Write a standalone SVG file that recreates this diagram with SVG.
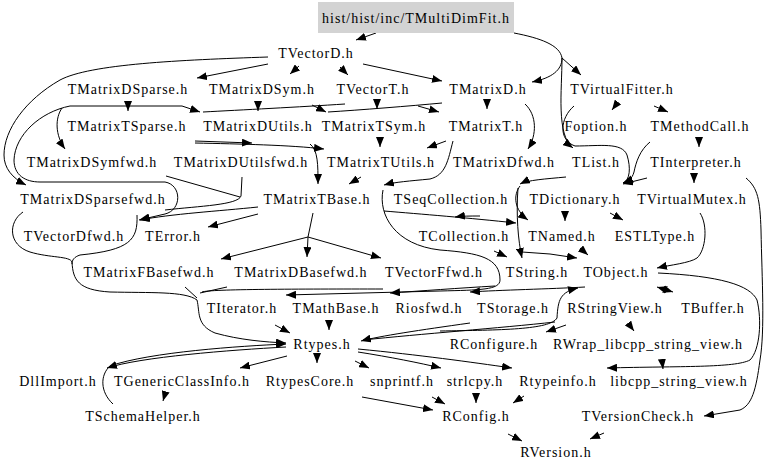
<svg xmlns="http://www.w3.org/2000/svg" width="768" height="474" viewBox="0 0 768 474">
<style>
text{font-family:"Liberation Serif","Times New Roman",serif;font-size:14px;letter-spacing:1px;text-anchor:middle;fill:#000}
.e path{fill:none;stroke:#000;stroke-width:1}
.e path.a{marker-end:url(#ah)}
.e path.b{marker-start:url(#ahs);marker-end:url(#ah)}
</style>
<defs>
<marker id="ah" viewBox="0 0 10 8" refX="10" refY="4" markerWidth="10" markerHeight="8" orient="auto" markerUnits="userSpaceOnUse"><path d="M0,0 L10,4 L0,8 z" fill="#000"/></marker>
<marker id="ahs" viewBox="0 0 10 8" refX="10" refY="4" markerWidth="10" markerHeight="8" orient="auto-start-reverse" markerUnits="userSpaceOnUse"><path d="M0,0 L10,4 L0,8 z" fill="#000"/></marker>
</defs>
<rect width="768" height="474" fill="#fff"/>
<g id="edges" class="e">
<path class="a" d="M376,33 L356,40"/>
<path class="a" d="M514,33 C540,38 560,45 562,58 C562,70 552,78 532,82"/>
<path class="a" d="M562,58 L581,75"/>
<path class="a" d="M562,58 C562,90 556,135 573,148"/>
<path class="a" d="M268,64 L197,78"/>
<path class="a" d="M299,66 L290,74"/>
<path class="a" d="M340,67 L348,75"/>
<path class="a" d="M363,64 L442,81"/>
<path class="a" d="M268,57 C180,60 90,64 60,80 C25,100 4,130 4,155 C4,168 12,178 26,185"/>
<path class="a" d="M70,106 C40,112 15,135 14,160 C14,175 25,182 40,182 L165,182 C182,185 182,210 165,214 L139,220"/>
<path class="a" d="M128,103 L128,111"/>
<path class="a" d="M62,108 C55,118 55,135 65,149"/>
<path class="a" d="M70,106 L182,106 L200,112"/>
<path d="M345,104 C300,107 240,110 203,112"/>
<path class="a" d="M258,102 L258,111"/>
<path class="a" d="M312,105 L326,112"/>
<path d="M442,103 C410,106 360,110 328,112"/>
<path class="a" d="M418,106 L439,112"/>
<path class="a" d="M377,100 L377,109"/>
<path class="a" d="M487,100 L487,109"/>
<path class="a" d="M525,104 C537,115 537,135 528,149"/>
<path class="a" d="M618,102 L612,110"/>
<path class="a" d="M654,106 L668,112"/>
<path class="a" d="M574,106 C560,118 558,140 575,146 C600,146 622,142 627,155 C631,168 630,180 623,183"/>
<path class="a" d="M699,138 L699,147"/>
<path class="a" d="M650,142 C640,150 636,162 634,172 C632,179 628,182 623,183"/>
<path class="a" d="M647,178 L623,184"/>
<path class="a" d="M694,174 L694,183"/>
<path class="a" d="M746,178 C758,188 760,200 761,230 C762,280 765,330 760,360 C756,390 752,405 740,410 L704,416"/>
<path class="a" d="M195,141 L252,143"/>
<path class="a" d="M195,143 C240,144 290,145 324,149"/>
<path class="a" d="M310,144 C318,150 318,165 318,184"/>
<path class="a" d="M380,138 L380,147"/>
<path class="a" d="M446,141 L427,148"/>
<path class="a" d="M453,141 C448,160 446,175 430,179 C410,181 395,182 384,185"/>
<path class="a" d="M361,177 L349,184"/>
<path d="M242,177 L241,196 C238,205 200,206 165,210"/>
<path d="M166,176 L240,197"/>
<path class="a" d="M258,207 C220,211 170,214 140,220"/>
<path class="a" d="M258,214 L208,227"/>
<path class="a" d="M313,213 L308,237 L221,259"/>
<path class="a" d="M308,237 L307,257"/>
<path class="a" d="M308,237 L381,258"/>
<path class="a" d="M384,211 C420,214 470,218 516,223"/>
<path class="a" d="M480,216 C470,216 462,216 455,217"/>
<path class="a" d="M383,190 C378,215 395,245 440,250 C480,253 500,258 500,280 C500,290 480,290 440,291 L286,295"/>
<path d="M383,289 C300,289 210,289 202,292"/>
<path class="a" d="M495,286 C460,288 420,291 390,293"/>
<path class="a" d="M566,177 C545,179 528,180 520,184"/>
<path class="a" d="M520,186 C513,195 514,210 528,220"/>
<path class="a" d="M518,188 C516,215 518,240 522,258"/>
<path class="a" d="M522,252 L550,254 L577,258"/>
<path class="a" d="M580,248 L588,255"/>
<path class="a" d="M494,251 L507,257"/>
<path class="a" d="M565,212 L565,221"/>
<path class="a" d="M610,213 L623,220"/>
<path class="a" d="M700,213 C708,225 706,250 697,258 C690,263 670,265 657,268"/>
<path class="b" d="M657,287 L673,292"/>
<path class="a" d="M658,273 C720,276 750,285 757,300 C762,320 760,350 750,360 C735,368 680,366 607,368"/>
<path class="a" d="M662,360 L663,369"/>
<path class="a" d="M440,331 C500,330 550,330 557,318 C558,300 560,292 578,288"/>
<path class="a" d="M470,323 C420,330 380,336 361,341"/>
<path d="M555,322 C500,328 420,334 363,340"/>
<path class="a" d="M585,287 C550,289 500,290 470,292"/>
<path class="a" d="M23,212 C8,222 8,245 30,252 C50,258 70,256 72,262 C73,280 78,290 110,292 C150,293 185,291 197,300 C200,312 196,325 215,333 C240,340 265,342 286,343"/>
<path d="M137,215 C138,240 130,250 80,255 C74,257 72,260 72,264"/>
<path d="M227,287 L200,293"/>
<path d="M185,287 L197,298"/>
<path class="a" d="M275,325 L290,333"/>
<path class="a" d="M329,321 L329,330"/>
<path class="a" d="M566,325 L546,332"/>
<path class="a" d="M628,323 L634,331"/>
<path class="a" d="M113,404 C100,392 100,375 110,366 C150,352 240,346 286,344"/>
<path class="a" d="M286,347 C230,350 140,357 107,368"/>
<path class="a" d="M287,356 L240,368"/>
<path class="a" d="M317,355 L317,363"/>
<path class="a" d="M355,361 L369,368"/>
<path class="a" d="M358,352 C390,357 420,363 441,368"/>
<path class="a" d="M358,349 C420,355 470,362 512,368"/>
<path class="a" d="M165,394 L163,401"/>
<path class="a" d="M362,397 L433,410"/>
<path class="a" d="M432,397 L445,404"/>
<path class="a" d="M476,394 L476,403"/>
<path class="a" d="M524,396 L513,403"/>
<path class="a" d="M508,434 L522,441"/>
<path class="a" d="M604,433 L590,439"/>
</g>
<g id="n_root"><rect x="318" y="2" width="196" height="31" fill="#d3d3d3"/><text x="416" y="23">hist/hist/inc/TMultiDimFit.h</text></g>
<g id="n_TVectorD"><text x="316" y="58">TVectorD.h</text></g>
<g id="n_TMatrixDSparse"><text x="128" y="94">TMatrixDSparse.h</text></g>
<g id="n_TMatrixDSym"><text x="262" y="94">TMatrixDSym.h</text></g>
<g id="n_TVectorT"><text x="373" y="94">TVectorT.h</text></g>
<g id="n_TMatrixD"><text x="488" y="94">TMatrixD.h</text></g>
<g id="n_TVirtualFitter"><text x="622" y="94">TVirtualFitter.h</text></g>
<g id="n_TMatrixTSparse"><text x="127" y="131">TMatrixTSparse.h</text></g>
<g id="n_TMatrixDUtils"><text x="258" y="131">TMatrixDUtils.h</text></g>
<g id="n_TMatrixTSym"><text x="374" y="131">TMatrixTSym.h</text></g>
<g id="n_TMatrixT"><text x="486" y="131">TMatrixT.h</text></g>
<g id="n_Foption"><text x="596" y="131">Foption.h</text></g>
<g id="n_TMethodCall"><text x="700" y="131">TMethodCall.h</text></g>
<g id="n_TMatrixDSymfwd"><text x="92" y="167">TMatrixDSymfwd.h</text></g>
<g id="n_TMatrixDUtilsfwd"><text x="241" y="167">TMatrixDUtilsfwd.h</text></g>
<g id="n_TMatrixTUtils"><text x="381" y="167">TMatrixTUtils.h</text></g>
<g id="n_TMatrixDfwd"><text x="504" y="167">TMatrixDfwd.h</text></g>
<g id="n_TList"><text x="596" y="167">TList.h</text></g>
<g id="n_TInterpreter"><text x="696" y="167">TInterpreter.h</text></g>
<g id="n_TMatrixDSparsefwd"><text x="93" y="204">TMatrixDSparsefwd.h</text></g>
<g id="n_TMatrixTBase"><text x="317" y="204">TMatrixTBase.h</text></g>
<g id="n_TSeqCollection"><text x="451" y="204">TSeqCollection.h</text></g>
<g id="n_TDictionary"><text x="575" y="204">TDictionary.h</text></g>
<g id="n_TVirtualMutex"><text x="692" y="204">TVirtualMutex.h</text></g>
<g id="n_TVectorDfwd"><text x="74" y="241">TVectorDfwd.h</text></g>
<g id="n_TError"><text x="173" y="241">TError.h</text></g>
<g id="n_TCollection"><text x="464" y="241">TCollection.h</text></g>
<g id="n_TNamed"><text x="562" y="241">TNamed.h</text></g>
<g id="n_ESTLType"><text x="655" y="241">ESTLType.h</text></g>
<g id="n_TMatrixFBasefwd"><text x="149" y="277">TMatrixFBasefwd.h</text></g>
<g id="n_TMatrixDBasefwd"><text x="301" y="277">TMatrixDBasefwd.h</text></g>
<g id="n_TVectorFfwd"><text x="434" y="277">TVectorFfwd.h</text></g>
<g id="n_TString"><text x="537" y="277">TString.h</text></g>
<g id="n_TObject"><text x="616" y="277">TObject.h</text></g>
<g id="n_TIterator"><text x="242" y="313">TIterator.h</text></g>
<g id="n_TMathBase"><text x="336" y="313">TMathBase.h</text></g>
<g id="n_Riosfwd"><text x="429" y="313">Riosfwd.h</text></g>
<g id="n_TStorage"><text x="513" y="313">TStorage.h</text></g>
<g id="n_RStringView"><text x="615" y="313">RStringView.h</text></g>
<g id="n_TBuffer"><text x="713" y="313">TBuffer.h</text></g>
<g id="n_Rtypes"><text x="322" y="349">Rtypes.h</text></g>
<g id="n_RConfigure"><text x="494" y="349">RConfigure.h</text></g>
<g id="n_RWrap"><text x="648" y="349">RWrap_libcpp_string_view.h</text></g>
<g id="n_DllImport"><text x="58" y="386">DllImport.h</text></g>
<g id="n_TGenericClassInfo"><text x="182" y="386">TGenericClassInfo.h</text></g>
<g id="n_RtypesCore"><text x="310" y="386">RtypesCore.h</text></g>
<g id="n_snprintf"><text x="402" y="386">snprintf.h</text></g>
<g id="n_strlcpy"><text x="475" y="386">strlcpy.h</text></g>
<g id="n_Rtypeinfo"><text x="558" y="386">Rtypeinfo.h</text></g>
<g id="n_libcpp"><text x="679" y="386">libcpp_string_view.h</text></g>
<g id="n_TSchemaHelper"><text x="143" y="421">TSchemaHelper.h</text></g>
<g id="n_RConfig"><text x="476" y="421">RConfig.h</text></g>
<g id="n_TVersionCheck"><text x="638" y="421">TVersionCheck.h</text></g>
<g id="n_RVersion"><text x="556" y="457">RVersion.h</text></g>
</svg>
